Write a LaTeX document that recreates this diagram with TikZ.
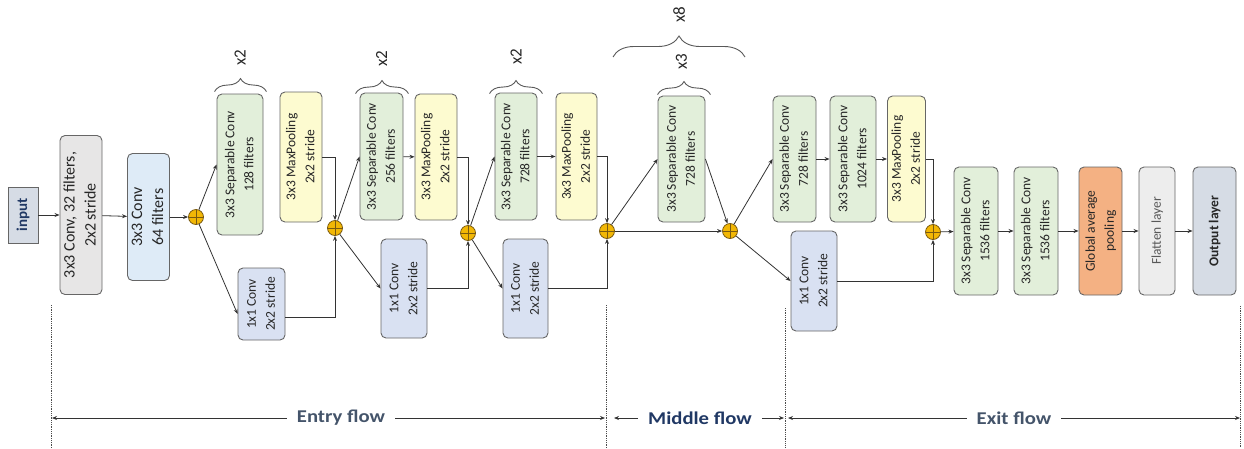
\documentclass[tikz,border=0pt]{standalone}
\usepackage{fontspec}
\setmainfont{Carlito}
\newfontfamily\flowfont[FakeStretch=1.15]{Carlito}
\usetikzlibrary{arrows.meta,decorations.pathreplacing}

\definecolor{sepgreen}{HTML}{E2EFDA}
\definecolor{poolyellow}{HTML}{FDFBD0}
\definecolor{oneblue}{HTML}{D9E1F2}
\definecolor{convgray}{HTML}{E7E6E6}
\definecolor{convblue}{HTML}{DEEBF7}
\definecolor{gaporange}{HTML}{F4B183}
\definecolor{flatgray}{HTML}{EDEDED}
\definecolor{outblue}{HTML}{D6DCE5}
\definecolor{plusfill}{HTML}{F2B705}
\definecolor{plusedge}{HTML}{7A5A10}
\definecolor{entrycol}{HTML}{44546A}
\definecolor{midcol}{HTML}{203864}

\newcommand{\vtxt}[1]{\rotatebox{90}{\begin{tabular}{@{}c@{}}#1\end{tabular}}}

\begin{document}
\begin{tikzpicture}[x=1pt,y=-1pt,
    blk/.style={draw=black!60,line width=0.9pt,rounded corners=5pt,inner sep=0pt,text=black!85,font=\fontsize{13.5}{19}\selectfont},
    sep/.style={blk,fill=sepgreen},
    pool/.style={blk,fill=poolyellow},
    one/.style={blk,fill=oneblue},
    plus/.style={circle,draw=plusedge,fill=plusfill,line width=0.8pt,minimum size=15pt,inner sep=0pt,
        path picture={\draw[plusedge,line width=0.8pt](path picture bounding box.north)--(path picture bounding box.south)
            (path picture bounding box.west)--(path picture bounding box.east);}},
    arr/.style={-{Stealth[length=5pt,width=4pt]},black!80,line width=0.8pt},
    brc/.style={decorate,decoration={brace,amplitude=13pt},black!65,line width=0.9pt},
    rep/.style={inner sep=0pt,font=\fontsize{17}{17}\selectfont,text=black!85},
    flow/.style={inner sep=10pt,font=\flowfont\bfseries\fontsize{18}{18}\selectfont},
    dots/.style={densely dotted,line width=0.8pt,black!70}]
    \useasboundingbox(0,0)rectangle(1244,448);
    
    % entry flow
    \node[draw=black!60,line width=0.9pt,fill=outblue,minimum width=30,minimum height=56,inner sep=0pt,text=midcol,font=\fontsize{15}{15}\selectfont\bfseries](in)at(23,215){\rotatebox{90}{input}};
    \node[blk,fill=convgray,minimum width=42,minimum height=159,font=\fontsize{16}{21}\selectfont](c32)at(81,215){\vtxt{3x3 Conv, 32 filters,\\2x2 stride}};
    \node[blk,fill=convblue,minimum width=41,minimum height=127,font=\fontsize{16}{21}\selectfont](c64)at(148.5,217){\vtxt{3x3 Conv\\64 filters}};
    \node[plus](p1)at(196,217){};
    \node[sep,minimum width=46,minimum height=141](s128)at(240,164.5){\vtxt{3x3 Separable Conv\\128 filters}};
    \node[pool,minimum width=42,minimum height=130](mp1)at(301,157){\vtxt{3x3 MaxPooling\\2x2 stride}};
    \node[one,minimum width=47,minimum height=72](o1)at(261.5,304){\vtxt{1x1 Conv\\2x2 stride}};
    \node[plus](p2)at(335,228){};
    \node[sep,minimum width=43,minimum height=127](s256)at(381.5,156.5){\vtxt{3x3 Separable Conv\\256 filters}};
    \node[pool,minimum width=42,minimum height=126](mp2)at(436,157){\vtxt{3x3 MaxPooling\\2x2 stride}};
    \node[one,minimum width=46,minimum height=99](o2)at(404,288.5){\vtxt{1x1 Conv\\2x2 stride}};
    \node[plus](p3)at(468,233){};
    \node[sep,minimum width=42,minimum height=127](s728)at(516,156.5){\vtxt{3x3 Separable Conv\\728 filters}};
    \node[pool,minimum width=41,minimum height=127](mp3)at(576.5,156.5){\vtxt{3x3 MaxPooling\\2x2 stride}};
    \node[one,minimum width=45,minimum height=99](o3)at(525.5,288.5){\vtxt{1x1 Conv\\2x2 stride}};
    \node[plus](p4)at(607,231){};
    
    % middle flow
    \node[sep,minimum width=47,minimum height=126](ms)at(681.5,159){\vtxt{3x3 Separable Conv\\728 filters}};
    \node[plus](p5)at(730,231){};
    
    % exit flow
    \node[sep,minimum width=43,minimum height=126](xs1)at(794.5,159){\vtxt{3x3 Separable Conv\\728 filters}};
    \node[sep,minimum width=46,minimum height=126](xs2)at(853,159){\vtxt{3x3 Separable Conv\\1024 filters}};
    \node[pool,minimum width=37,minimum height=126](mp4)at(906.5,159){\vtxt{3x3 MaxPooling\\2x2 stride}};
    \node[one,minimum width=46,minimum height=100](o4)at(814,281){\vtxt{1x1 Conv\\2x2 stride}};
    \node[plus](p6)at(933,232){};
    \node[sep,minimum width=44,minimum height=128](s1536a)at(976,231){\vtxt{3x3 Separable Conv\\1536 filters}};
    \node[sep,minimum width=44,minimum height=128](s1536b)at(1036,231){\vtxt{3x3 Separable Conv\\1536 filters}};
    \node[blk,fill=gaporange,minimum width=43,minimum height=128](gap)at(1100.5,231){\vtxt{Global average\\pooling}};
    \node[blk,fill=flatgray,minimum width=36,minimum height=128,text=black!65](fl)at(1157,231){\vtxt{Flatten layer}};
    \node[blk,fill=outblue,minimum width=43,minimum height=128](out)at(1214.5,231){\vtxt{\bfseries Output layer}};
    
    % connectors
    \draw[arr](in)--(c32);
    \draw[arr](c32)--(c64);
    \draw[arr](c64)--(p1);
    \draw[arr](p1)--(s128.west);
    \draw[arr](p1)--([yshift=-10pt]o1.west);
    \draw[arr](mp1.east)-|(p2.north);
    \draw[arr]([yshift=-13pt]o1.east)-|(p2.south);
    \draw[arr](p2)--(s256.west);
    \draw[arr](p2)--(o2.west);
    \draw[arr](s256)--(mp2);
    \draw[arr](mp2.east)-|(p3.north);
    \draw[arr](o2.east)-|(p3.south);
    \draw[arr](p3)--(s728.west);
    \draw[arr](p3)--(o3.west);
    \draw[arr](s728)--(mp3);
    \draw[arr](mp3.east)-|(p4.north);
    \draw[arr](o3.east)-|(p4.south);
    \draw[arr](p4)--(ms.west);
    \draw[arr](p4)--(p5);
    \draw[arr](ms.east)--(p5);
    \draw[arr](p5)--(xs1.west);
    \draw[arr](p5)--(o4.west);
    \draw[arr](xs1)--(xs2);
    \draw[arr](xs2)--(mp4);
    \draw[arr](mp4.east)-|(p6.north);
    \draw[arr](o4.east)-|(p6.south);
    \draw[arr](p6)--(s1536a);
    \draw[arr](s1536a)--(s1536b);
    \draw[arr](s1536b)--(gap);
    \draw[arr](gap)--(fl);
    \draw[arr](fl)--(out);
    
    % repeats
    \draw[brc]([xshift=-2pt,yshift=2pt]s128.north west)--([xshift=3pt,yshift=2pt]s128.north east);
    \node[rep]at([yshift=36pt]s128.north){\rotatebox{90}{x2}};
    \draw[brc]([xshift=-4pt,yshift=-1pt]s256.north west)--([xshift=5pt,yshift=-1pt]s256.north east);
    \node[rep]at([yshift=34pt]s256.north){\rotatebox{90}{x2}};
    \draw[brc]([xshift=-5pt,yshift=-1pt]s728.north west)--([xshift=5pt,yshift=-1pt]s728.north east);
    \node[rep]at([yshift=36pt]s728.north){\rotatebox{90}{x2}};
    \draw[brc]([yshift=1pt]ms.north west)--([xshift=5pt,yshift=1pt]ms.north east);
    \node[rep]at([yshift=34pt]ms.north){\rotatebox{90}{x3}};
    \coordinate(b8l)at(613,57);
    \coordinate(b8r)at(745,57);
    \draw[brc,decoration={amplitude=21pt}](b8l)--(b8r);
    \node[rep]at(679,15){\rotatebox{90}{x8}};
    
    % flows
    \coordinate(d1t)at(51,305);\coordinate(d1b)at(51,448);
    \coordinate(d2t)at(606,305);\coordinate(d2b)at(606,448);
    \coordinate(d3t)at(785,308);\coordinate(d3b)at(785,448);
    \coordinate(d4t)at(1240,306);\coordinate(d4b)at(1240,448);
    \draw[dots](d1t)--(d1b);
    \draw[dots](d2t)--(d2b);
    \draw[dots](d3t)--(d3b);
    \draw[dots](d4t)--(d4b);
    \node[flow,text=entrycol](entry)at(341,418){Entry flow};
    \node[flow,text=midcol](middle)at(700,418){Middle flow};
    \node[flow,text=entrycol](exit)at(1014,418){Exit flow};
    \coordinate(e0)at(52,418);\coordinate(e1)at(605,418);
    \coordinate(m0)at(614,418);\coordinate(m1)at(784,418);
    \coordinate(x0)at(788,418);\coordinate(x1)at(1240,418);
    \draw[arr](entry.west)--(e0);
    \draw[arr](entry.east)--(e1);
    \draw[arr](middle.west)--(m0);
    \draw[arr](middle.east)--(m1);
    \draw[arr](exit.west)--(x0);
    \draw[arr](exit.east)--(x1);
\end{tikzpicture}
\end{document}
